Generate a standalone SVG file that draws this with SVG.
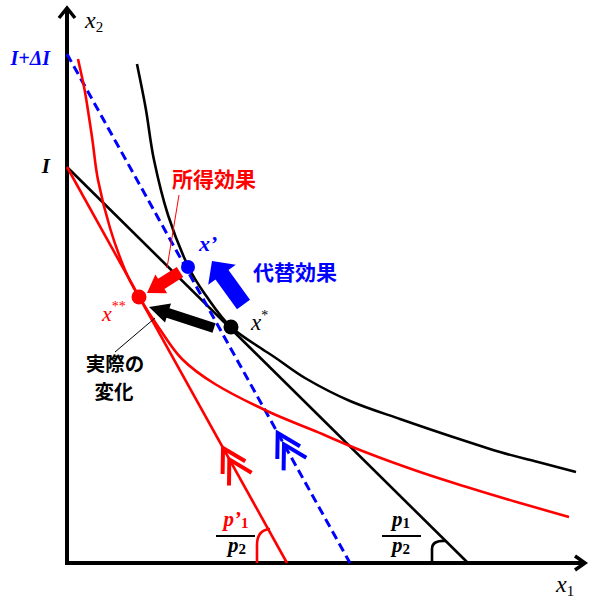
<svg xmlns="http://www.w3.org/2000/svg" width="596" height="603" viewBox="0 0 596 603">
<defs>
<style>
.axis{stroke:#000;stroke-width:4;fill:none;stroke-linecap:butt}
.ah{stroke:#000;stroke-width:3.5;fill:none;stroke-linejoin:miter}
.blk{stroke:#000;stroke-width:2.6;fill:none}
.red{stroke:#FF0000;stroke-width:2.6;fill:none}
.blu{stroke:#0000FF;stroke-width:3;fill:none;stroke-dasharray:9 5}
.chevr{stroke:#FF0000;stroke-width:4;fill:none;stroke-linecap:butt}
.chevb{stroke:#0000FF;stroke-width:4;fill:none;stroke-linecap:butt}
.math{font-family:"Liberation Serif","Times New Roman",serif;font-style:italic}
.jp{font-family:"Noto Sans CJK JP","Noto Sans",sans-serif;font-weight:bold;font-size:21px}
</style>
</defs>
<rect width="596" height="603" fill="#fff"/>
<g id="axes">
<line class="axis" x1="67" y1="565" x2="67" y2="8"/>
<polyline class="ah" points="59,18 67,8 75,18"/>
<line class="axis" x1="65" y1="563" x2="583" y2="563"/>
<polyline class="ah" points="575,556 585,563 575,570"/>
<text class="math" x="85" y="28" font-size="24">x<tspan font-style="normal" font-size="15" dy="4">2</tspan></text>
<text class="math" x="556" y="592" font-size="24">x<tspan font-style="normal" font-size="15" dy="4">1</tspan></text>
<text class="math" x="50" y="65" font-size="20" font-weight="bold" fill="#0000FF" text-anchor="end">I+ΔI</text>
<text class="math" x="50" y="173" font-size="21" font-weight="bold" text-anchor="end">I</text>
</g>
<g id="connectors">
<line id="budget-black" class="blk" stroke-width="3" x1="67" y1="167" x2="468" y2="563"/>
<line id="budget-red" class="red" stroke-width="3" x1="67" y1="167" x2="287" y2="563"/>
<line id="budget-blue" class="blu" x1="67" y1="54" x2="350" y2="563"/>
<path id="ic-black" class="blk" d="M137,64 C140,79.3 143.2,94 146,110 C148.8,126 150.3,142.5 154,160 C157.7,177.5 162.3,197.3 168,215 C173.7,232.7 181.5,252.3 188,266 C194.5,279.7 199.8,286.8 207,297 C214.2,307.2 221.3,318 231,327 C240.7,336 252.7,342.5 265,351 C279.2,359.3 290.8,369.7 305,378 C319.2,386.3 334.2,394.2 350,401 C365.8,407.8 383.3,413.2 400,419 C416.7,424.8 433.3,430.5 450,436 C466.7,441.5 485.3,447.7 500,452 C514.7,456.3 525.3,458.7 538,462 C550.7,465.3 563.3,468.7 576,472"/>
<path id="ic-red" class="red" d="M78,59 C80.3,70 82.7,79 85,92 C87.3,105 89.8,122.3 92,137 C94.2,151.7 95,164.8 98,180 C101,195.2 105.5,213 110,228 C114.5,243 120.2,258.5 125,270 C129.8,281.5 133.3,287.3 139,297 C144.7,306.7 151.8,317.7 159,328 C166.2,338.3 172.7,349.7 182,359 C191.3,368.3 200.8,375.3 215,384 C229.2,392.7 250.3,403.2 267,411 C283.7,418.8 298.7,424.2 315,431 C331.3,437.8 347.5,445.2 365,452 C382.5,458.8 402.5,466 420,472 C437.5,478 453.3,482.8 470,488 C486.7,493.2 503.5,498.2 520,503 C536.5,507.8 552.7,512.3 569,517"/>
<polyline class="chevr" points="222.6,474 223,448 245.3,461.3"/>
<polyline class="chevr" points="229,485.4 229.3,459.4 251.6,472.7"/>
<polyline class="chevb" points="277.3,459 277.7,433 300,446.3"/>
<polyline class="chevb" points="283.6,470.4 284,444.4 306.3,457.7"/>
<path class="red" stroke-width="3" d="M257,563 V545 Q257,530 270,529"/>
<path class="blk" stroke-width="3" d="M432,563 V549 Q432,540 446,541"/>
<line x1="179" y1="195" x2="167" y2="268" stroke="#FF0000" stroke-width="1"/>
<line x1="115" y1="352" x2="155" y2="318" stroke="#000" stroke-width="1"/>
<polygon id="arrow-blue" fill="#0000FF" points="212,261 235.8,264.8 228.5,270.1 250,299.8 237,309.2 215.5,279.5 208.2,284.8"/>
<polygon id="arrow-red" fill="#FF0000" points="147,293 155.4,274.6 158.1,278.8 176.8,266.9 183.2,277.1 164.5,289 167.2,293.2"/>
<polygon id="arrow-black" fill="#000" points="149,307 171,303.5 169.5,308.2 215.5,323.2 212.5,332.8 166.5,317.8 165,322.5"/>
</g>
<g id="node-xprime">
<circle cx="188" cy="267" r="7" fill="#0000FF"/>
<text class="math" x="199" y="251" font-size="22" font-weight="bold" fill="#0000FF">x’</text>
</g>
<g id="node-xstar">
<circle cx="231" cy="327" r="7.5" fill="#000"/>
<text class="math" x="251" y="330" font-size="23">x<tspan font-style="normal" font-size="14" dy="-10">*</tspan></text>
</g>
<g id="node-xss">
<circle cx="139" cy="297" r="7.5" fill="#FF0000"/>
<text class="math" x="102" y="321" font-size="22" fill="#FF0000">x<tspan font-style="normal" font-size="14" dy="-10">**</tspan></text>
</g>
<g id="label-substitution">
<text class="jp" x="253" y="280" fill="#0000FF">代替効果</text>
</g>
<g id="label-income">
<text class="jp" x="172" y="187" fill="#FF0000">所得効果</text>
</g>
<g id="label-actual">
<text class="jp" style="font-size:19.5px" x="115" y="371" text-anchor="middle">実際の</text>
<text class="jp" style="font-size:19.5px" x="114" y="399" text-anchor="middle">変化</text>
</g>
<g id="slope-red">
<text class="math" x="236" y="526" font-size="21" font-weight="bold" fill="#FF0000" text-anchor="middle">p’<tspan font-style="normal" font-size="15" dy="2">1</tspan></text>
<line x1="216" y1="536" x2="255" y2="536" stroke="#000" stroke-width="2"/>
<text class="math" x="237" y="552" font-size="21" font-weight="bold" text-anchor="middle">p<tspan font-style="normal" font-size="15" dy="2">2</tspan></text>
</g>
<g id="slope-black">
<text class="math" x="401" y="526" font-size="21" font-weight="bold" text-anchor="middle">p<tspan font-style="normal" font-size="15" dy="2">1</tspan></text>
<line x1="382" y1="536" x2="421" y2="536" stroke="#000" stroke-width="2"/>
<text class="math" x="401" y="552" font-size="21" font-weight="bold" text-anchor="middle">p<tspan font-style="normal" font-size="15" dy="2">2</tspan></text>
</g>
</svg>
